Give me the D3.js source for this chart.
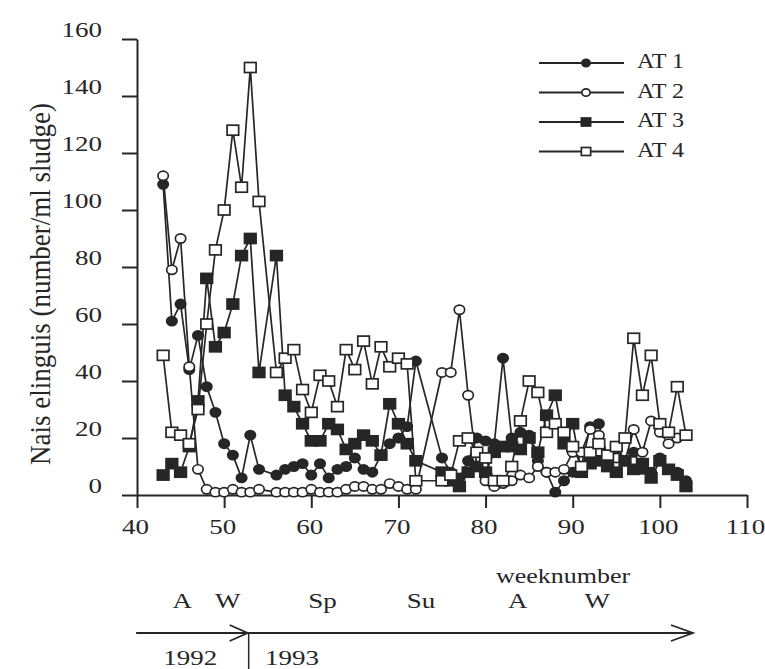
<!DOCTYPE html>
<html>
<head>
<meta charset="utf-8">
<script src="https://cdn.jsdelivr.net/npm/d3@7"></script>
<style>
    body { margin: 0; background: #fff; }
    svg text { font-family: "Liberation Serif", "Times New Roman", serif; fill: #262626; }
</style>
</head>
<body>
<div id="chart"></div>
<script>
///// DATOS //////
// semanas muestreadas (sin muestra en las semanas 55, 73 y 74)
const weeks = [43,44,45,46,47,48,49,50,51,52,53,54,
    56,57,58,59,60,61,62,63,64,65,66,67,68,69,70,71,72,
    75,76,77,78,79,80,81,82,83,84,85,86,87,88,89,90,91,92,93,94,95,96,97,98,99,100,101,102,103];

const at1 = [109,61,67,44,56,38,29,18,14,6,21,9,
    7,9,10,11,7,11,6,9,10,13,9,8,14,18,20,24,47,
    13,8,6,12,20,19,18,48,20,22,21,12,8,1,5,8,10,24,25,13,14,12,15,9,8,13,9,8,5];

const at2 = [112,79,90,45,9,2,1,1,2,1,1,2,
    1,1,1,1,2,1,1,1,2,3,3,2,2,4,3,2,2,
    43,43,65,35,10,5,3,4,5,7,6,10,8,8,9,15,15,23,21,14,13,12,23,15,26,22,18,20,21];

const at3 = [7,11,8,17,33,76,52,57,67,84,90,43,
    84,35,31,25,19,19,25,23,16,18,21,19,14,32,25,18,12,
    8,5,3,8,10,8,15,17,17,16,20,15,28,35,18,25,8,11,12,10,8,12,9,11,6,12,9,7,3];

const at4 = [49,22,21,18,30,60,86,100,128,108,150,103,
    43,48,51,37,29,42,40,31,51,44,54,39,52,45,48,46,5,
    5,7,19,20,15,13,5,5,10,26,40,36,22,25,22,17,10,15,18,14,17,20,55,35,49,25,22,38,21];

const seriesNames = ['AT 1', 'AT 2', 'AT 3', 'AT 4'];
const seriesShapes = ['circle', 'circle', 'square', 'square'];
const seriesFilled = [true, false, true, false];

const xTicks = [40, 50, 60, 70, 80, 90, 100, 110];
const yTicks = [0, 20, 40, 60, 80, 100, 120, 140, 160];

// línea temporal inferior
const seasons = ['A', 'W', 'Sp', 'Su', 'A', 'W'];
const seasonWeeks = [45.2, 50.4, 61.3, 72.6, 83.7, 92.8];
const years = ['1992', '1993'];
const yearWeeks = [46.1, 57.8];
const yearBreak = 52.7;   // cambio de año
const timeStart = 39.9, timeEnd = 103.8;

///// VISUALIZACIÓN //////
const W = 765, H = 669;
const ink = '#262626';
const stretch = 1.35;   // el escaneo original está estirado en horizontal

let svg = d3.select('#chart').append('svg')
    .attr('width', W)
    .attr('height', H);

let x = d3.scaleLinear().domain([40, 110]).range([137, 747]);
let y = d3.scaleLinear().domain([0, 160]).range([495, 39]);

//Eje Y
svg.append('g')
    .attr('transform', 'translate(' + x(40) + ',0)')
    .call(d3.axisLeft(y).tickValues(yTicks).tickSize(15).tickSizeOuter(0))
    .call(function(g) {
        g.select('.domain').attr('stroke', ink).attr('stroke-width', 2);
        g.selectAll('.tick line').attr('stroke', ink).attr('stroke-width', 2);
        g.selectAll('.tick text')
            .attr('font-size', 20)
            .attr('fill', ink)
            .attr('x', -35 / stretch)
            .attr('y', -9)
            .attr('transform', 'scale(' + stretch + ',1)');
    });

//Eje X
svg.append('g')
    .attr('transform', 'translate(0,' + y(0) + ')')
    .call(d3.axisBottom(x).tickValues(xTicks).tickSize(13).tickPadding(12).tickSizeOuter(0))
    .call(function(g) {
        g.select('.domain').attr('stroke', ink).attr('stroke-width', 2);
        g.selectAll('.tick line').attr('stroke', ink).attr('stroke-width', 2);
        g.selectAll('.tick text')
            .attr('font-size', 20)
            .attr('fill', ink)
            .attr('x', -2 / stretch)
            .attr('transform', 'scale(' + stretch + ',1)');
    });

function stretchedText(txt, px, py, size, sx, anchor, rot) {
    svg.append('text')
        .attr('transform', 'translate(' + px + ',' + py + ') scale(' + sx + ',1)' + (rot ? ' rotate(' + rot + ')' : ''))
        .attr('text-anchor', anchor || 'middle')
        .attr('font-size', size)
        .attr('fill', ink)
        .text(txt);
}

//Títulos de ejes
stretchedText('weeknumber', 563, 583, 20, 1.3, 'middle');
stretchedText('Nais elinguis (number/ml sludge)', 50, 284, 27, 1.08, 'middle', -90);

//Series
const allSeries = [at1, at2, at3, at4].map(function(vals, i) {
    return {
        name: seriesNames[i],
        shape: seriesShapes[i],
        filled: seriesFilled[i],
        points: weeks.map(function(w, j) { return {week: w, value: vals[j]}; })
    };
});

let line = d3.line()
    .x(function(d) { return x(d.week); })
    .y(function(d) { return y(d.value); });

svg.append('g').selectAll('path')
    .data(allSeries)
    .enter()
    .append('path')
    .attr('d', function(d) { return line(d.points); })
    .attr('fill', 'none')
    .attr('stroke', ink)
    .attr('stroke-width', 1.7);

function drawMarker(g, shape, filled, cx, cy, s) {
    if (shape === 'circle') {
        g.append('ellipse')
            .attr('cx', cx).attr('cy', cy)
            .attr('rx', 5.2 * s).attr('ry', 4.6 * s)
            .attr('fill', filled ? ink : '#fff')
            .attr('stroke', ink).attr('stroke-width', 1.7);
    } else {
        g.append('rect')
            .attr('x', cx - 5.8 * s).attr('y', cy - 5 * s)
            .attr('width', 11.6 * s).attr('height', 10 * s)
            .attr('fill', filled ? ink : '#fff')
            .attr('stroke', ink).attr('stroke-width', 1.7);
    }
}

let marks = svg.append('g');
allSeries.forEach(function(s) {
    s.points.forEach(function(p) {
        drawMarker(marks, s.shape, s.filled, x(p.week), y(p.value), 1);
    });
});

//Leyenda
let legend = svg.append('g');
allSeries.forEach(function(s, i) {
    let ly = 63 + i * 29.5;
    legend.append('line')
        .attr('x1', 539).attr('x2', 624)
        .attr('y1', ly).attr('y2', ly)
        .attr('stroke', ink).attr('stroke-width', 1.8);
    drawMarker(legend, s.shape, s.filled, 586, ly, 0.8);
    stretchedText(s.name, 637, ly + 5, 21, 1.15, 'start');
});

//Línea temporal (estaciones y años)
let ty = 633;
function arrow(x1, x2, head) {
    svg.append('line')
        .attr('x1', x1).attr('x2', x2).attr('y1', ty).attr('y2', ty)
        .attr('stroke', ink).attr('stroke-width', 1.8);
    svg.append('path')
        .attr('d', 'M' + (x2 - head) + ',' + (ty - 8) + 'L' + x2 + ',' + ty + 'L' + (x2 - head) + ',' + (ty + 8))
        .attr('fill', 'none').attr('stroke', ink).attr('stroke-width', 1.8);
}
arrow(x(timeStart), x(yearBreak), 18);
arrow(x(yearBreak), x(timeEnd), 22);
svg.append('line')
    .attr('x1', x(yearBreak) + 1).attr('x2', x(yearBreak) + 1)
    .attr('y1', ty).attr('y2', H)
    .attr('stroke', ink).attr('stroke-width', 1.5);

seasons.forEach(function(s, i) {
    stretchedText(s, x(seasonWeeks[i]), 608, 20, stretch, 'middle');
});
years.forEach(function(s, i) {
    stretchedText(s, x(yearWeeks[i]), 665, 20, stretch, 'middle');
});
</script>
</body>
</html>
